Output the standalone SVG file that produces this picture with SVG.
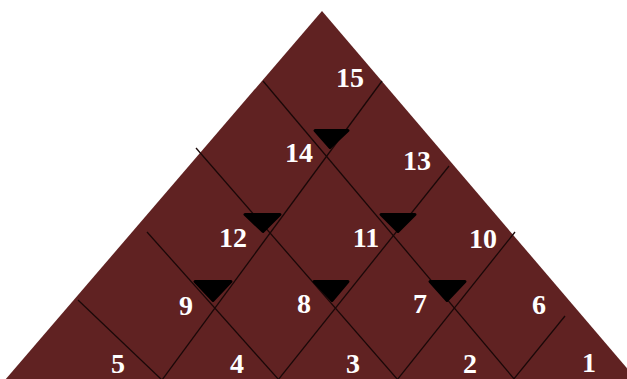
<svg xmlns="http://www.w3.org/2000/svg" width="627" height="379" viewBox="0 0 627 379">
  <style>
    .bg { fill: #602222; }
    .grid line { stroke: #1a0808; stroke-width: 1.3; stroke-linecap: butt; }
    .arrow { fill: #000; stroke: #000; stroke-width: 3; stroke-linejoin: round; }
    .lbl { font-family: "Liberation Serif", "Times New Roman", serif; font-weight: bold; font-size: 28px; fill: #ffffff; text-anchor: middle; }
  </style>
  <rect x="0" y="0" width="627" height="379" fill="#ffffff"/>
  <polygon class="bg" points="322,11 5,380 637,380"/>
  <g id="connectors" class="grid">
    <line x1="263" y1="81" x2="515" y2="380"/>
    <line x1="196" y1="148" x2="398" y2="380"/>
    <line x1="147" y1="232" x2="279" y2="380"/>
    <line x1="78" y1="300" x2="162" y2="380"/>
    <line x1="382" y1="81" x2="162" y2="380"/>
    <line x1="449" y1="166" x2="278" y2="380"/>
    <line x1="515" y1="232" x2="397" y2="380"/>
    <line x1="565" y1="316" x2="513" y2="380"/>
  </g>
  <g id="cell-15">
    <polygon class="arrow" points="315,130.5 348,130.5 330,147.5"/>
    <text class="lbl" x="350" y="87">15</text>
  </g>
  <g id="cell-14">
    <polygon class="arrow" points="245,214.5 280,214.5 263,231.5"/>
    <text class="lbl" x="299" y="162">14</text>
  </g>
  <g id="cell-13">
    <polygon class="arrow" points="381,214.5 415,214.5 398,231.5"/>
    <text class="lbl" x="417" y="170">13</text>
  </g>
  <g id="cell-12">
    <polygon class="arrow" points="195,281.5 231,281.5 213,300.5"/>
    <text class="lbl" x="233" y="247">12</text>
  </g>
  <g id="cell-11">
    <polygon class="arrow" points="314,281.5 348,281.5 332,300.5"/>
    <text class="lbl" x="366" y="247">11</text>
  </g>
  <g id="cell-10">
    <polygon class="arrow" points="430,281.5 465,281.5 447,300.5"/>
    <text class="lbl" x="483" y="248">10</text>
  </g>
  <g id="cell-9"><text class="lbl" x="186" y="315">9</text></g>
  <g id="cell-8"><text class="lbl" x="304" y="313">8</text></g>
  <g id="cell-7"><text class="lbl" x="420" y="313">7</text></g>
  <g id="cell-6"><text class="lbl" x="539" y="314">6</text></g>
  <g id="cell-5"><text class="lbl" x="118" y="373">5</text></g>
  <g id="cell-4"><text class="lbl" x="237" y="373">4</text></g>
  <g id="cell-3"><text class="lbl" x="353" y="373">3</text></g>
  <g id="cell-2"><text class="lbl" x="470" y="373">2</text></g>
  <g id="cell-1"><text class="lbl" x="589" y="372">1</text></g>
</svg>
